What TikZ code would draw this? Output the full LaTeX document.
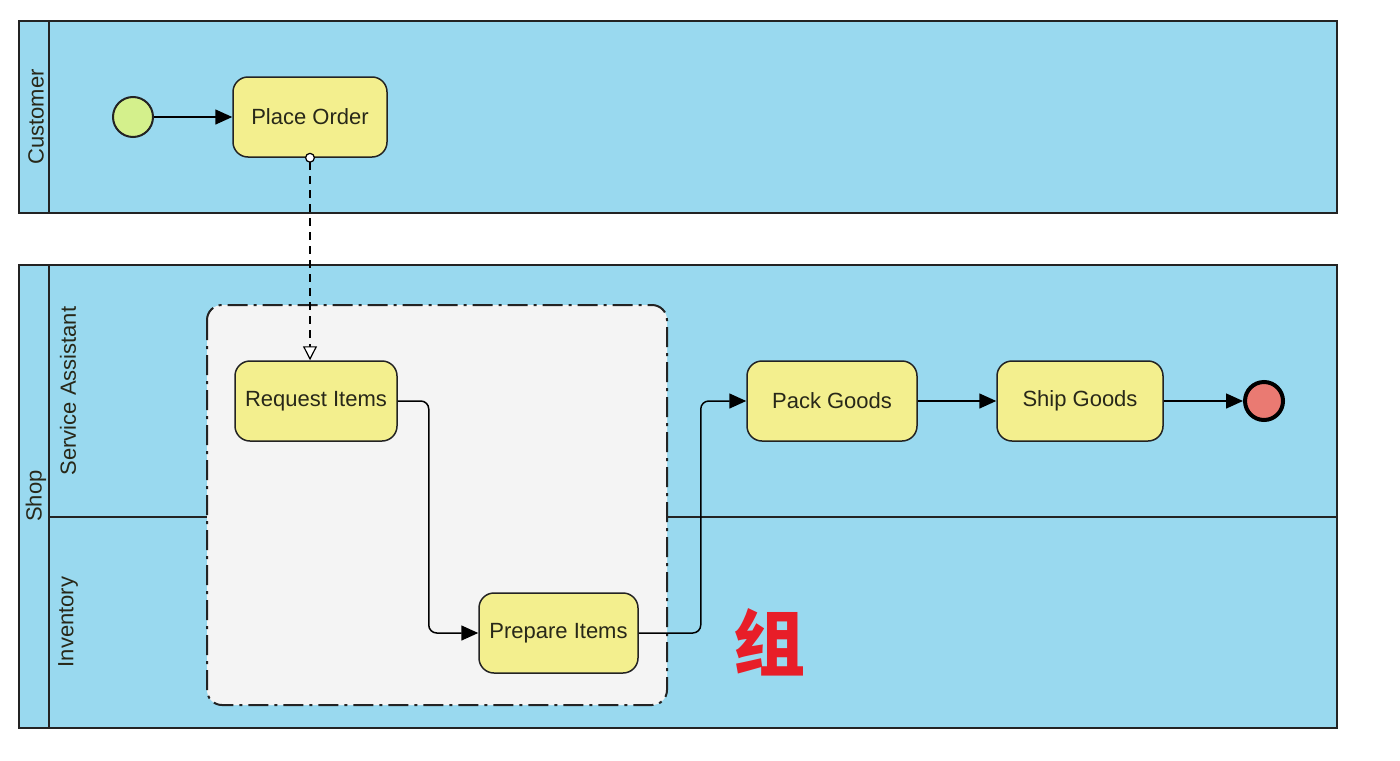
\documentclass[tikz,border=0pt]{standalone}
\usepackage{fontspec}
\setmainfont{Liberation Sans}
\newfontfamily\cjkfont{Noto Sans CJK SC}
\usetikzlibrary{arrows.meta}
\definecolor{poolblue}{RGB}{153,217,239}
\definecolor{taskyellow}{RGB}{243,239,142}
\definecolor{startgreen}{RGB}{212,240,140}
\definecolor{endred}{RGB}{234,122,114}
\definecolor{groupgray}{RGB}{244,244,244}
\definecolor{edgedark}{RGB}{35,35,35}
\definecolor{txtdark}{RGB}{40,40,25}
\definecolor{labelred}{RGB}{232,30,40}
\tikzset{
  pool/.style={draw=edgedark, line width=0.8pt, fill=poolblue},
  taskbox/.style={draw=edgedark, line width=0.75pt, fill=taskyellow, rounded corners=7.5pt,
    minimum height=40pt, text=txtdark, font=\fontsize{11}{13}\selectfont, inner sep=0pt},
  lanelabel/.style={rotate=90, text=txtdark, font=\fontsize{11}{13}\selectfont, inner sep=0pt},
  flow/.style={draw=black, line width=0.75pt, -{Triangle[length=8.5pt,width=7.5pt]}, rounded corners=4pt},
  msgflow/.style={draw=black, line width=0.6pt, dash pattern=on 4pt off 3pt,
    {Circle[open,length=5pt,width=5pt,fill=white,line width=0.6pt,sep=0pt]}-{Triangle[open,length=7pt,width=7pt,fill=white,line width=0.6pt]}},
  groupbox/.style={draw=edgedark, line width=1pt, fill=groupgray, rounded corners=7.5pt,
    dash pattern=on 10pt off 3pt on 1.5pt off 3pt}
}
\begin{document}
\begin{tikzpicture}[x=0.5pt,y=-0.5pt]
\useasboundingbox[fill=white] (0,0) rectangle (1400,760);
% Customer pool
\draw[pool] (19,21) rectangle (1337,213);
\draw[edgedark, line width=0.8pt] (49,21) -- (49,213);
\node[lanelabel] (lblcust) at (36,117) {Customer};
% Shop pool
\draw[pool] (19,265) rectangle (1337,728);
\draw[edgedark, line width=1.4pt] (49,265) -- (49,728);
\draw[edgedark, line width=0.8pt] (49,517) -- (1337,517);
\node[lanelabel] (lblshop) at (36,496) {Shop};
\node[lanelabel] (lblsa) at (68,391) {Service Assistant};
\node[lanelabel] (lblinv) at (68,622) {Inventory};
% Group
\draw[groupbox] (207,305) rectangle (667,705);
% Events and tasks
\node[circle, draw=edgedark, line width=1pt, fill=startgreen, minimum size=20pt, inner sep=0pt] (start) at (133,117) {};
\node[taskbox, minimum width=77pt] (place) at (310,117) {Place Order};
\node[taskbox, minimum width=81pt] (req) at (316,401) {Request Items};
\node[taskbox, minimum width=79.5pt] (prep) at (558.5,633) {Prepare Items};
\node[taskbox, minimum width=85pt] (pack) at (832,401) {Pack Goods};
\node[taskbox, minimum width=83pt] (ship) at (1080,401) {Ship Goods};
\node[circle, draw=black, line width=2pt, fill=endred, minimum size=19pt, inner sep=0pt] (end) at (1264,401) {};
% Connectors
\draw[flow] (start) -- (place);
\draw[msgflow, shorten <=-2.5pt] (place.south) -- (place.south |- req.north);
\draw[flow] (req.east) -- ++(31,0) |- (prep.west);
\draw[flow] (prep.east) -- ++(62,0) |- (pack.west);
\draw[flow] (pack) -- (ship);
\draw[flow] (ship) -- (end);
% Red label
\node[text=labelred, font=\cjkfont\bfseries\fontsize{36}{40}\selectfont, inner sep=0pt] (zu) at (769,642) {组};
\end{tikzpicture}
\end{document}
